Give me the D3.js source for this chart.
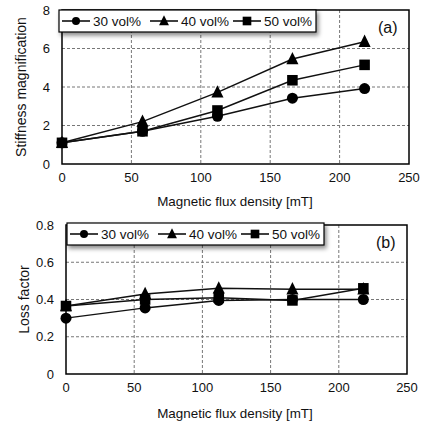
<!DOCTYPE html>
<html>
<head>
<meta charset="utf-8">
<script src="https://cdn.jsdelivr.net/npm/d3@7"></script>
<style>
	body { margin: 0; background: #fff; }
	text { font-family: "Liberation Sans", Arial, sans-serif; fill: #111; }
</style>
</head>
<body>
<svg id="chart"></svg>
<script>
	// data
	let fluxDensity = [0, 58, 112, 166, 218];
	let seriesNames = ["30 vol%", "40 vol%", "50 vol%"];
	let seriesSymbols = ["circle", "triangle", "square"];

	let stiffness30 = [1.1, 1.7, 2.48, 3.42, 3.92];
	let stiffness40 = [1.1, 2.2, 3.72, 5.45, 6.35];
	let stiffness50 = [1.1, 1.7, 2.78, 4.35, 5.15];

	let loss30 = [0.30, 0.355, 0.395, 0.40, 0.40];
	let loss40 = [0.365, 0.43, 0.46, 0.455, 0.455];
	let loss50 = [0.365, 0.40, 0.41, 0.395, 0.46];

	let xTicks = [0, 50, 100, 150, 200, 250];
	let stiffnessTicks = [0, 2, 4, 6, 8];
	let lossTicks = [0, 0.2, 0.4, 0.6, 0.8];

	let width = 425, height = 428;
	let svg = d3.select("#chart").attr("width", width).attr("height", height);

	let defs = svg.append("defs");
	let filter = defs.append("filter").attr("id", "shadow")
		.attr("x", "-10%").attr("y", "-30%").attr("width", "130%").attr("height", "180%");
	filter.append("feDropShadow").attr("dx", 2).attr("dy", 3).attr("stdDeviation", 2)
		.attr("flood-color", "#000").attr("flood-opacity", 0.45);

	function marker(g, type, x, y, s) {
		if (type == "circle") {
			g.append("circle").attr("cx", x).attr("cy", y).attr("r", s * 0.5).attr("fill", "#000");
		} else if (type == "triangle") {
			let h = s * 1.05;
			g.append("path").attr("fill", "#000")
				.attr("d", "M" + x + "," + (y - h * 0.62) + "L" + (x + s * 0.55) + "," + (y + h * 0.45) + "L" + (x - s * 0.55) + "," + (y + h * 0.45) + "Z");
		} else {
			g.append("rect").attr("x", x - s * 0.48).attr("y", y - s * 0.48)
				.attr("width", s * 0.96).attr("height", s * 0.96).attr("fill", "#000");
		}
	}

	function panel(opts) {
		let g = svg.append("g");
		let x = d3.scaleLinear().domain([0, 250]).range([opts.left, opts.right]);
		let y = d3.scaleLinear().domain([0, opts.ymax]).range([opts.bottom, opts.top]);

		// gridlines
		g.selectAll("line.vgrid").data(xTicks.slice(1, -1)).enter().append("line")
			.attr("x1", d => x(d)).attr("x2", d => x(d))
			.attr("y1", opts.top).attr("y2", opts.bottom)
			.attr("stroke", "#777").attr("stroke-dasharray", "3,2").attr("stroke-width", 1);
		g.selectAll("line.hgrid").data(opts.yTicks.slice(1, -1)).enter().append("line")
			.attr("x1", opts.left).attr("x2", opts.right)
			.attr("y1", d => y(d)).attr("y2", d => y(d))
			.attr("stroke", "#777").attr("stroke-dasharray", "3,2").attr("stroke-width", 1);

		// frame
		g.append("rect").attr("x", opts.left).attr("y", opts.top)
			.attr("width", opts.right - opts.left).attr("height", opts.bottom - opts.top)
			.attr("fill", "none").attr("stroke", "#000").attr("stroke-width", 1.5);

		// tick labels
		g.selectAll("text.xt").data(xTicks).enter().append("text")
			.attr("x", d => x(d)).attr("y", opts.bottom + 18)
			.attr("text-anchor", "middle").attr("font-size", 13).text(d => d);
		g.selectAll("text.yt").data(opts.yTicks).enter().append("text")
			.attr("x", opts.left - 12).attr("y", d => y(d) + 4.5)
			.attr("text-anchor", "end").attr("font-size", 13).text(opts.fmt);

		// axis titles
		g.append("text").attr("x", 235).attr("y", opts.bottom + opts.titleGap)
			.attr("text-anchor", "middle").attr("font-size", 13.4).text("Magnetic flux density [mT]");
		g.append("text").attr("transform", "translate(" + opts.ylabelX + "," + ((opts.top + opts.bottom) / 2) + ") rotate(-90)")
			.attr("text-anchor", "middle").attr("font-size", 14).text(opts.ylabel);

		// lines then markers
		let line = d3.line().x((d, i) => x(fluxDensity[i])).y(d => y(d));
		opts.series.forEach(function (s) {
			g.append("path").attr("d", line(s)).attr("fill", "none")
				.attr("stroke", "#111").attr("stroke-width", 1.5);
		});
		opts.series.forEach(function (s, k) {
			s.forEach(function (v, i) {
				marker(g, seriesSymbols[k], x(fluxDensity[i]), y(v), 11);
			});
		});

		// panel tag
		g.append("text").attr("x", opts.right - 31).attr("y", opts.top + 23)
			.attr("font-size", 16).text(opts.tag);

		// legend
		let lg = g.append("g");
		lg.append("rect").attr("x", opts.legX).attr("y", opts.legY)
			.attr("width", 257).attr("height", 22)
			.attr("fill", "#fff").attr("stroke", "#000").attr("stroke-width", 1.2)
			.attr("filter", "url(#shadow)");
		let offsets = [3, 91, 174];
		seriesNames.forEach(function (name, k) {
			let lx = opts.legX + offsets[k];
			let ly = opts.legY + 11;
			lg.append("line").attr("x1", lx).attr("x2", lx + 28).attr("y1", ly).attr("y2", ly)
				.attr("stroke", "#000").attr("stroke-width", 1.5);
			marker(lg, seriesSymbols[k], lx + 14, ly, k == 0 ? 8 : 9);
			lg.append("text").attr("x", lx + 31).attr("y", ly + 5)
				.attr("font-size", 13.5).text(name);
		});
	}

	panel({
		left: 62, right: 409, top: 10, bottom: 164, ymax: 8,
		yTicks: stiffnessTicks, fmt: d => d, ylabel: "Stiffness magnification", ylabelX: 26,
		series: [stiffness30, stiffness40, stiffness50], tag: "(a)", legX: 59, legY: 10, titleGap: 42
	});
	panel({
		left: 66, right: 407, top: 225, bottom: 374, ymax: 0.8,
		yTicks: lossTicks, fmt: d => d == 0 ? "0" : d.toFixed(1), ylabel: "Loss factor", ylabelX: 29,
		series: [loss30, loss40, loss50], tag: "(b)", legX: 67, legY: 223, titleGap: 44
	});
</script>
</body>
</html>
